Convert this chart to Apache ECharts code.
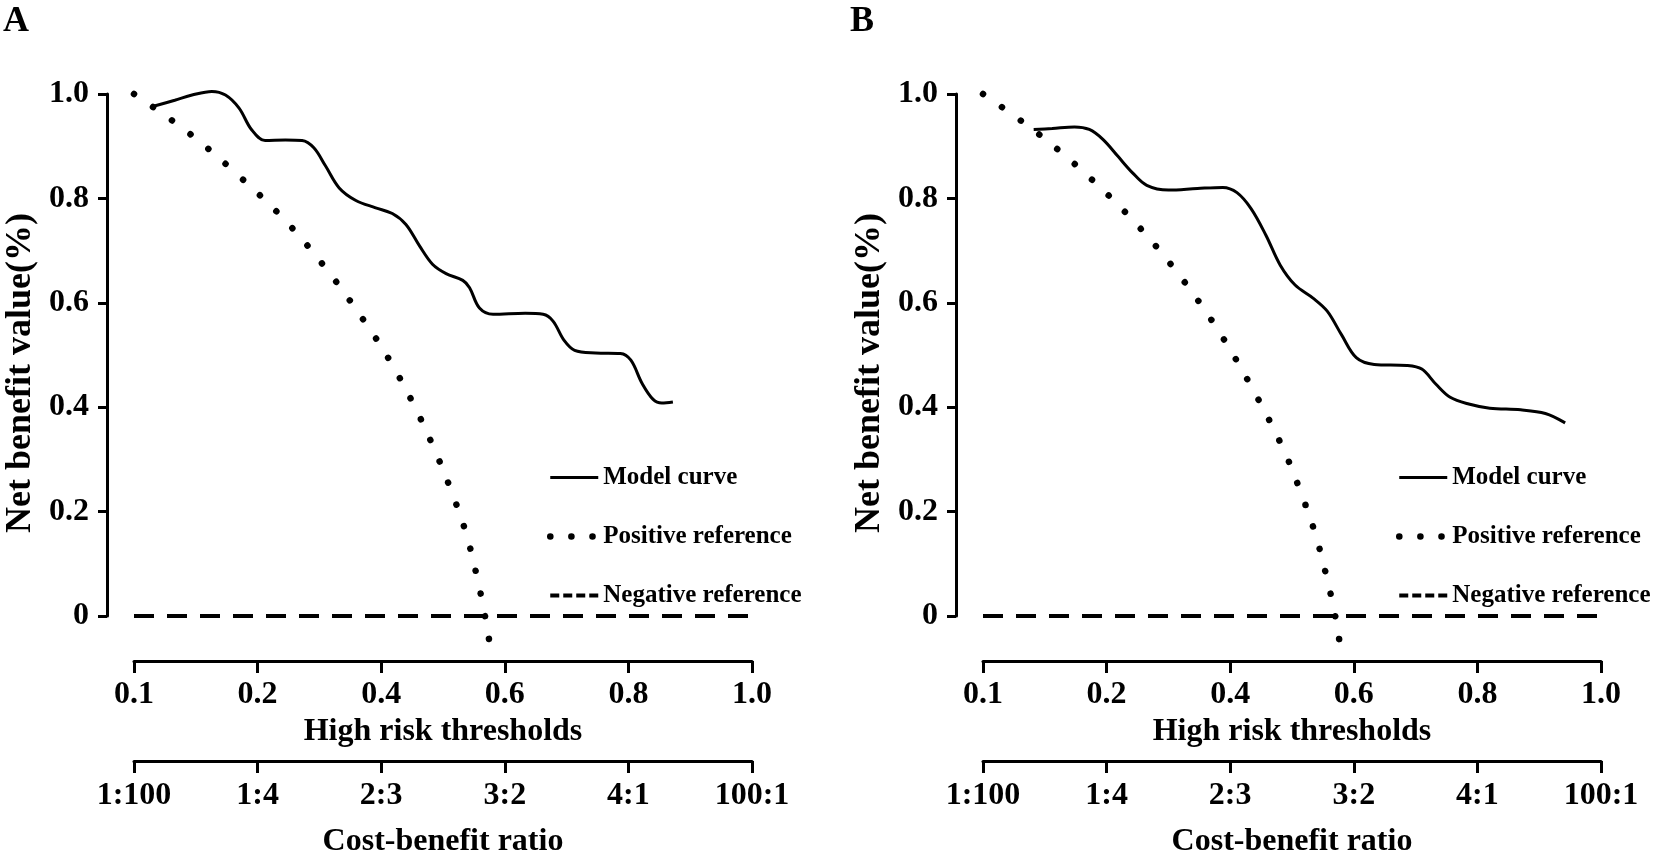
<!DOCTYPE html>
<html>
<head>
<meta charset="utf-8">
<script src="https://cdn.jsdelivr.net/npm/echarts@6.0.0/dist/echarts.min.js"></script>
<style>
  html, body { margin: 0; padding: 0; background: #fff; }
  #chart { width: 1654px; height: 863px; }
</style>
</head>
<body>
<div id="chart"></div>
<script>
// tick values of the (unevenly labelled) threshold axis and their labels
const xTicks = [0.1, 0.2, 0.4, 0.6, 0.8, 1.0];
const xTickLabels = ['0.1', '0.2', '0.4', '0.6', '0.8', '1.0'];
const costLabels = ['1:100', '1:4', '2:3', '3:2', '4:1', '100:1'];
const yTickLabels = ['0', '0.2', '0.4', '0.6', '0.8', '1.0'];

// panel A
const modelAThreshold = [0.115, 0.133, 0.147, 0.163, 0.174, 0.185, 0.195, 0.212, 0.245, 0.272, 0.291, 0.310,
  0.332, 0.359, 0.391, 0.418, 0.440, 0.462, 0.483, 0.505, 0.532, 0.543, 0.559, 0.581, 0.633, 0.662, 0.678,
  0.696, 0.713, 0.747, 0.787, 0.804, 0.822, 0.840, 0.854, 0.872];
const modelANet = [0.976, 0.988, 0.998, 1.005, 0.998, 0.973, 0.932, 0.911, 0.912, 0.911, 0.897, 0.862,
  0.820, 0.796, 0.782, 0.771, 0.750, 0.709, 0.674, 0.656, 0.643, 0.629, 0.590, 0.578, 0.580, 0.578, 0.565,
  0.528, 0.509, 0.504, 0.503, 0.490, 0.446, 0.415, 0.408, 0.410];
const posAThreshold = [0.100, 0.144, 0.184, 0.246, 0.315, 0.379, 0.418, 0.453, 0.484, 0.512, 0.537, 0.555, 0.568, 0.576];
const posANet = [1.000, 0.926, 0.845, 0.756, 0.659, 0.554, 0.481, 0.404, 0.325, 0.244, 0.160, 0.075, 0.000, -0.056];

// panel B
const modelBThreshold = [0.141, 0.156, 0.174, 0.186, 0.197, 0.218, 0.242, 0.265, 0.300, 0.347, 0.388, 0.411,
  0.434, 0.458, 0.481, 0.505, 0.534, 0.557, 0.580, 0.604, 0.633, 0.686, 0.710, 0.733, 0.756, 0.786, 0.820,
  0.870, 0.910, 0.942];
const modelBNet = [0.932, 0.934, 0.937, 0.932, 0.913, 0.881, 0.849, 0.825, 0.816, 0.819, 0.821, 0.811,
  0.780, 0.729, 0.672, 0.634, 0.609, 0.584, 0.539, 0.495, 0.482, 0.480, 0.473, 0.444, 0.419, 0.406, 0.398,
  0.395, 0.388, 0.370];
const posBThreshold = [0.100, 0.143, 0.184, 0.245, 0.315, 0.378, 0.434, 0.484, 0.512, 0.537, 0.556, 0.570, 0.578];
const posBNet = [1.000, 0.927, 0.845, 0.755, 0.657, 0.552, 0.440, 0.325, 0.244, 0.160, 0.075, 0.000, -0.058];

// negative reference (treat none)
const negThreshold = [0.1, 1.0];
const negNet = [0, 0];

const FONT = '"Liberation Serif", "Times New Roman", serif';
const BLACK = '#000';

// threshold -> position on the evenly spaced tick axis
function toAxis(t) {
  for (let i = 0; i < xTicks.length - 1; i++) {
    if (t <= xTicks[i + 1] || i === xTicks.length - 2) {
      return i + (t - xTicks[i]) / (xTicks[i + 1] - xTicks[i]);
    }
  }
}
function pts(ts, vs) {
  return ts.map((t, k) => [toAxis(t), vs[k]]);
}

const textBold = (size) => ({ fontSize: size, fontWeight: 'bold', fontFamily: FONT, color: BLACK });

function xAxisOf(gi, offset, labels, margin, name, nameGap) {
  return {
    type: 'value', gridIndex: gi, min: 0, max: xTicks.length - 1, interval: 1,
    position: 'bottom', offset: offset,
    axisLine: { show: true, onZero: false, lineStyle: { color: BLACK, width: 3 } },
    axisTick: { show: true, length: 12, lineStyle: { color: BLACK, width: 3 } },
    axisLabel: Object.assign({ margin: margin, formatter: v => labels[v] }, textBold(32)),
    splitLine: { show: false },
    name: name, nameLocation: 'middle', nameGap: nameGap,
    nameTextStyle: textBold(32)
  };
}

function yAxisOf(gi) {
  return {
    type: 'value', gridIndex: gi, min: 0, max: 1, interval: 0.2,
    position: 'left', offset: 27,
    axisLine: { show: true, onZero: false, lineStyle: { color: BLACK, width: 3 } },
    axisTick: { show: true, length: 9, lineStyle: { color: BLACK, width: 3 } },
    axisLabel: Object.assign({ margin: 18, formatter: v => yTickLabels[Math.round(v * 5)] }, textBold(32)),
    splitLine: { show: false },
    name: 'Net benefit value(%)', nameLocation: 'middle', nameGap: 68,
    nameTextStyle: Object.assign({ padding: [0, 36, 0, 0] }, textBold(36))
  };
}

function seriesOf(gi, model, pos) {
  const base = { type: 'line', xAxisIndex: gi * 2, yAxisIndex: gi, symbol: 'none', clip: false, silent: true };
  return [
    Object.assign({}, base, {
      name: 'Model curve', data: model, smooth: 0.35,
      lineStyle: { color: BLACK, width: 3 }
    }),
    Object.assign({}, base, {
      name: 'Positive reference', data: pos, smooth: 0.35,
      lineStyle: { color: BLACK, width: 6.5, type: [0.1, 23], cap: 'round' }
    }),
    Object.assign({}, base, {
      name: 'Negative reference', data: pts(negThreshold, negNet),
      lineStyle: { color: BLACK, width: 4, type: [20, 13] }
    })
  ];
}

const noSymbol = { color: 'rgba(0,0,0,0)', borderWidth: 0 };

function legendOf(left) {
  return {
    orient: 'vertical', left: left, top: 460, itemWidth: 48, itemHeight: 20, itemGap: 34,
    selectedMode: false, textStyle: textBold(25),
    data: [
      { name: 'Model curve', itemStyle: noSymbol, lineStyle: { color: BLACK, width: 3 } },
      { name: 'Positive reference', itemStyle: noSymbol,
        lineStyle: { color: BLACK, width: 6.5, type: [0.1, 21], cap: 'round' } },
      { name: 'Negative reference', itemStyle: noSymbol, lineStyle: { color: BLACK, width: 4, type: [9, 4] } }
    ]
  };
}

const chart = echarts.init(document.getElementById('chart'), null, { renderer: 'canvas' });

const option = {
  backgroundColor: '#fff',
  animation: false,
  title: [
    { text: 'A', left: 3, top: 4, padding: 0, textStyle: textBold(36) },
    { text: 'B', left: 850, top: 4, padding: 0, textStyle: textBold(36) }
  ],
  legend: [legendOf(542), legendOf(1391)],
  grid: [
    { left: 134, top: 94, width: 618, height: 528 },
    { left: 983, top: 94, width: 618, height: 528 }
  ],
  xAxis: [
    xAxisOf(0, 45, xTickLabels, 18, 'High risk thresholds', 52),
    xAxisOf(0, 145, costLabels, 19, 'Cost-benefit ratio', 65),
    xAxisOf(1, 45, xTickLabels, 18, 'High risk thresholds', 52),
    xAxisOf(1, 145, costLabels, 19, 'Cost-benefit ratio', 65)
  ],
  yAxis: [yAxisOf(0), yAxisOf(1)],
  series: [].concat(
    seriesOf(0, pts(modelAThreshold, modelANet), pts(posAThreshold, posANet)),
    seriesOf(1, pts(modelBThreshold, modelBNet), pts(posBThreshold, posBNet))
  )
};

chart.setOption(option);
</script>
</body>
</html>
